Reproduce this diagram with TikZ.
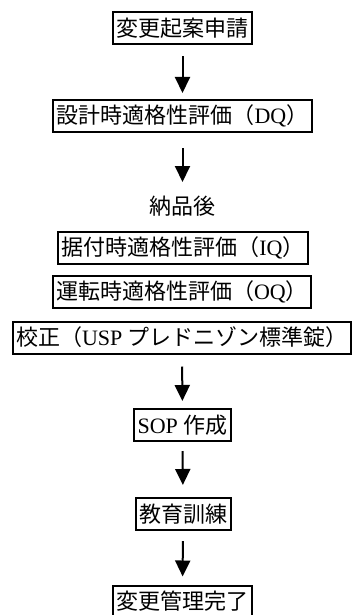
\documentclass[tikz,border=0pt]{standalone}
\usepackage{fontspec}
\setmainfont{Liberation Serif}
\newfontfamily\jpfont{Noto Sans CJK JP}
\newcommand{\jp}[1]{{\jpfont #1}}
\usetikzlibrary{arrows.meta}

\begin{document}
\begin{tikzpicture}[
  x=0.5pt, y=-0.5pt,
  box/.style={
    rectangle, draw, line width=1pt,
    inner xsep=1.75pt, inner ysep=0pt,
    minimum height=16pt,
    text centered, font=\fontsize{11pt}{13pt}\selectfont
  },
  note/.style={box, draw=none},
  arr/.style={-{Triangle[width=7.5pt,length=8pt]}, line width=1pt}
]
\useasboundingbox (0,0) rectangle (353,615);

\node[box] (apply) at (182.5,28.5) {\jp{変更起案申請}};
\node[box] (dq) at (182.5,116) {\jp{設計時適格性評価（}DQ\jp{）}};
\node[note] (deliv) at (182.5,206) {\jp{納品後}};
\node[box] (iq) at (183,248) {\jp{据付時適格性評価（}IQ\jp{）}};
\node[box] (oq) at (182,291.5) {\jp{運転時適格性評価（}OQ\jp{）}};
\node[box] (calib) at (182,337.5) {\jp{校正（}USP \jp{プレドニゾン標準錠）}};
\node[box] (sop) at (182.5,425) {SOP \jp{作成}};
\node[box] (train) at (183,514) {\jp{教育訓練}};
\node[box] (done) at (182.5,601.5) {\jp{変更管理完了}};

\draw[arr, shorten <=5.5pt, shorten >=3pt] (apply) -- (dq);
\draw[arr, shorten <=7.5pt, shorten >=3.5pt] (dq) -- (deliv);
\draw[arr, shorten <=6pt, shorten >=3.5pt] (calib) -- (sop);
\draw[arr, shorten <=4.5pt, shorten >=6pt] (sop) -- (train);
\draw[arr, shorten <=5pt, shorten >=4pt] (train) -- (done);

\end{tikzpicture}
\end{document}
